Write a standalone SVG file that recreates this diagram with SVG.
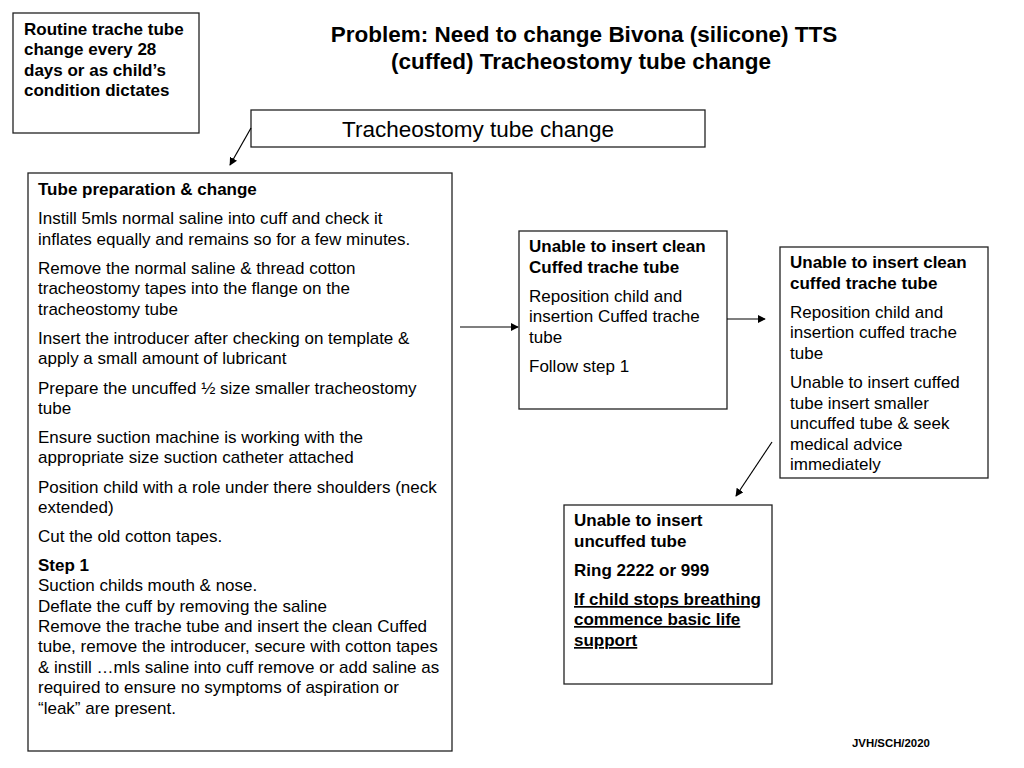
<svg xmlns="http://www.w3.org/2000/svg" width="1024" height="768" viewBox="0 0 1024 768">
<style>
text{font-family:"Liberation Sans",Arial,sans-serif;fill:#000}
.box{fill:#fff;stroke:#222;stroke-width:1.3}
.t{font-size:17px}
.b{font-weight:bold}
.u{text-decoration:underline}
.con{stroke:#000;stroke-width:1.2;fill:none;marker-end:url(#ah)}
</style>
<defs>
<marker id="ah" viewBox="0 0 10 10" refX="9" refY="5" markerWidth="8" markerHeight="8" markerUnits="userSpaceOnUse" orient="auto">
<path d="M0,0 L10,5 L0,10 z" fill="#000"/>
</marker>
</defs>
<rect width="1024" height="768" fill="#fff"/>
<g id="title">
<text x="584" y="42" text-anchor="middle" font-size="22.5" class="b">Problem: Need to change Bivona (silicone) TTS</text>
<text x="581" y="69" text-anchor="middle" font-size="22.5" class="b">(cuffed) Tracheostomy tube change</text>
</g>
<g id="routine">
<rect class="box" x="13" y="13" width="186" height="120"/>
<text class="t b">
<tspan x="24" y="35">Routine trache tube</tspan>
<tspan x="24" y="55">change every 28</tspan>
<tspan x="24" y="76">days or as child’s</tspan>
<tspan x="24" y="96">condition dictates</tspan>
</text>
</g>
<g id="trach">
<rect class="box" x="251" y="110" width="454" height="37"/>
<text x="478" y="137" text-anchor="middle" font-size="22.5">Tracheostomy tube change</text>
</g>
<g id="prep">
<rect class="box" x="28" y="173" width="424" height="578"/>
<text class="t" x="38">
<tspan x="38" y="195" class="b">Tube preparation &amp; change</tspan>
<tspan x="38" y="224">Instill 5mls normal saline into cuff and check it</tspan>
<tspan x="38" y="245">inflates equally and remains so for a few minutes.</tspan>
<tspan x="38" y="274">Remove the normal saline &amp; thread cotton</tspan>
<tspan x="38" y="294">tracheostomy tapes into the flange on the</tspan>
<tspan x="38" y="315">tracheostomy tube</tspan>
<tspan x="38" y="344">Insert the introducer after checking on template &amp;</tspan>
<tspan x="38" y="364">apply a small amount of lubricant</tspan>
<tspan x="38" y="394">Prepare the uncuffed ½ size smaller tracheostomy</tspan>
<tspan x="38" y="414">tube</tspan>
<tspan x="38" y="443">Ensure suction machine is working with the</tspan>
<tspan x="38" y="463">appropriate size suction catheter attached</tspan>
<tspan x="38" y="493">Position child with a role under there shoulders (neck</tspan>
<tspan x="38" y="513">extended)</tspan>
<tspan x="38" y="542">Cut the old cotton tapes.</tspan>
<tspan x="38" y="571" class="b">Step 1</tspan>
<tspan x="38" y="591">Suction childs mouth &amp; nose.</tspan>
<tspan x="38" y="612">Deflate the cuff by removing the saline</tspan>
<tspan x="38" y="632">Remove the trache tube and insert the clean Cuffed</tspan>
<tspan x="38" y="652">tube, remove the introducer, secure with cotton tapes</tspan>
<tspan x="38" y="673">&amp; instill …mls saline into cuff remove or add saline as</tspan>
<tspan x="38" y="693">required to ensure no symptoms of aspiration or</tspan>
<tspan x="38" y="714">“leak” are present.</tspan>
</text>
</g>
<g id="unable1">
<rect class="box" x="519" y="231" width="208" height="178"/>
<text class="t">
<tspan x="529" y="252" class="b">Unable to insert clean</tspan>
<tspan x="529" y="273" class="b">Cuffed trache tube</tspan>
<tspan x="529" y="302">Reposition child and</tspan>
<tspan x="529" y="322">insertion Cuffed trache</tspan>
<tspan x="529" y="343">tube</tspan>
<tspan x="529" y="372">Follow step 1</tspan>
</text>
</g>
<g id="unable2">
<rect class="box" x="780" y="247" width="208" height="231"/>
<text class="t">
<tspan x="790" y="268" class="b">Unable to insert clean</tspan>
<tspan x="790" y="289" class="b">cuffed trache tube</tspan>
<tspan x="790" y="318">Reposition child and</tspan>
<tspan x="790" y="338">insertion cuffed trache</tspan>
<tspan x="790" y="359">tube</tspan>
<tspan x="790" y="388">Unable to insert cuffed</tspan>
<tspan x="790" y="409">tube insert smaller</tspan>
<tspan x="790" y="429">uncuffed tube &amp; seek</tspan>
<tspan x="790" y="450">medical advice</tspan>
<tspan x="790" y="470">immediately</tspan>
</text>
</g>
<g id="unable3">
<rect class="box" x="564" y="505" width="208" height="179"/>
<text class="t b">
<tspan x="574" y="526">Unable to insert</tspan>
<tspan x="574" y="547">uncuffed tube</tspan>
<tspan x="574" y="576">Ring 2222 or 999</tspan>
<tspan x="574" y="605" class="u">If child stops breathing</tspan>
<tspan x="574" y="625" class="u">commence basic life</tspan>
<tspan x="574" y="646" class="u">support</tspan>
</text>
</g>
<g id="footer">
<text x="852" y="747" font-size="11.4" class="b">JVH/SCH/2020</text>
</g>
<g id="connectors">
<line class="con" x1="251" y1="128" x2="230" y2="165"/>
<line class="con" x1="460" y1="327" x2="518" y2="327"/>
<line class="con" x1="727" y1="319" x2="765" y2="319"/>
<line class="con" x1="772" y1="442" x2="736" y2="496"/>
</g>
</svg>
